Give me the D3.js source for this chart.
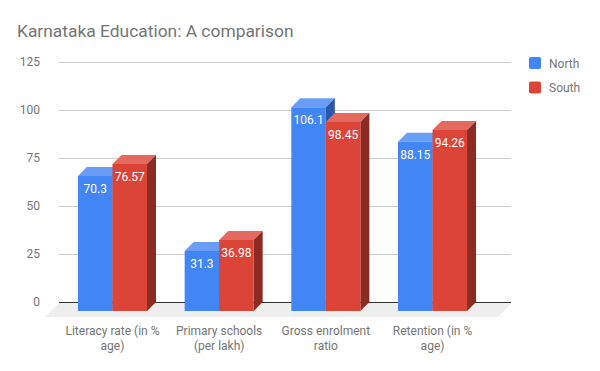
<!DOCTYPE html>
<html>
<head>
<meta charset="utf-8">
<script src="https://cdn.jsdelivr.net/npm/d3@7"></script>
<style>
  body { margin: 0; background: #fff; }
  svg { font-family: Roboto, "Noto Sans", sans-serif; }
</style>
</head>
<body>
<svg id="chart" width="600" height="371"></svg>
<script>
// data
const categories = ["Literacy rate (in % age)", "Primary schools (per lakh)", "Gross enrolment ratio", "Retention (in % age)"];
const seriesNames = ["North", "South"];
const north = [70.3, 31.3, 106.1, 88.15];
const south = [76.57, 36.98, 98.45, 94.26];
const yTicks = [0, 25, 50, 75, 100, 125];

const colors = {
  North: { front: "#4285f4", top: "#6a9ef6", side: "#2b57a9" },
  South: { front: "#db4437", top: "#e4695e", side: "#8c2a24" }
};

const svg = d3.select("#chart"),
  dep = 9,          // bar depth offset
  floorDep = 14,    // floor depth
  left = 59, right = 511;

const y = d3.scaleLinear().domain([0, 125]).range([302, 62]);
const x = d3.scaleBand().domain(categories).range([45, 500])
  .paddingInner(0.353).paddingOuter(0.309);
const xs = d3.scaleBand().domain(seriesNames).range([0, x.bandwidth()]);

// title
svg.append("text")
  .attr("x", 17).attr("y", 37)
  .attr("font-size", 17.4).attr("fill", "#757575")
  .text("Karnataka Education: A comparison");

// y axis + grid
const yAxis = d3.axisLeft(y).tickValues(yTicks).tickSize(-(right - left)).tickPadding(19);
const gy = svg.append("g").attr("transform", "translate(" + left + ",0)").call(yAxis);
gy.select(".domain").remove();
gy.selectAll(".tick line").attr("stroke", "#cccccc");
gy.selectAll(".tick").filter(d => d === 0).select("line").attr("stroke", "#333").attr("stroke-width", 1.2);
gy.selectAll(".tick text").attr("fill", "#757575").attr("font-size", 12)
  .style("font-family", "Roboto, sans-serif");

// floor
const y0 = y(0) + 1;
svg.append("polygon")
  .attr("points", [[left, y0], [right + 1, y0], [right + 1 - floorDep, y0 + floorDep], [left - floorDep, y0 + floorDep]].join(" "))
  .attr("fill", "#eeeeee");

// bars
const rows = categories.map((c, i) => ({ cat: c, North: north[i], South: south[i] }));
const w = xs.bandwidth();

rows.forEach(r => {
  seriesNames.forEach(s => {
    const v = r[s], bx = x(r.cat) + xs(s), top = y(v), bot = y(0), col = colors[s];
    const g = svg.append("g");
    g.append("polygon")
      .attr("points", [[bx, top + dep], [bx + w, top + dep], [bx + w + dep, top], [bx + dep, top]].join(" "))
      .attr("fill", col.top);
    g.append("polygon")
      .attr("points", [[bx + w, top + dep], [bx + w + dep, top], [bx + w + dep, bot], [bx + w, bot + dep]].join(" "))
      .attr("fill", col.side);
    g.append("rect")
      .attr("x", bx).attr("y", top + dep)
      .attr("width", w).attr("height", bot - top)
      .attr("fill", col.front);
    g.append("text")
      .attr("x", bx + w / 2).attr("y", top + dep + 17)
      .attr("text-anchor", "middle").attr("fill", "#fff").attr("font-size", 12)
      .text(v);
  });
});

// category labels
const xAxis = d3.axisBottom(x).tickSize(0).tickPadding(0);
const gx = svg.append("g")
  .attr("transform", "translate(0,323)")
  .call(xAxis);
gx.select(".domain").remove();
gx.selectAll(".tick text")
  .attr("fill", "#757575").attr("font-size", 12)
  .style("font-family", "Roboto, sans-serif")
  .each(function(d) {
    const t = d3.select(this), words = d.split(" ");
    t.text(null).attr("y", 0).attr("dy", null);
    let line = [], tspan = t.append("tspan").attr("x", 0).attr("dy", "1em");
    words.forEach(wd => {
      line.push(wd);
      tspan.text(line.join(" "));
      if (tspan.node().getComputedTextLength() > 100 && line.length > 1) {
        line.pop();
        tspan.text(line.join(" "));
        line = [wd];
        tspan = t.append("tspan").attr("x", 0).attr("dy", "1.25em").text(wd);
      }
    });
  });

// legend
const lg = svg.append("g").attr("transform", "translate(529,57)");
seriesNames.forEach((s, i) => {
  lg.append("rect").attr("x", 0).attr("y", i * 24.5).attr("width", 12).attr("height", 12)
    .attr("rx", 2).attr("fill", colors[s].front);
  lg.append("text").attr("x", 20).attr("y", i * 24.5 + 10.5)
    .attr("font-size", 12).attr("fill", "#757575").text(s);
});
</script>
</body>
</html>
